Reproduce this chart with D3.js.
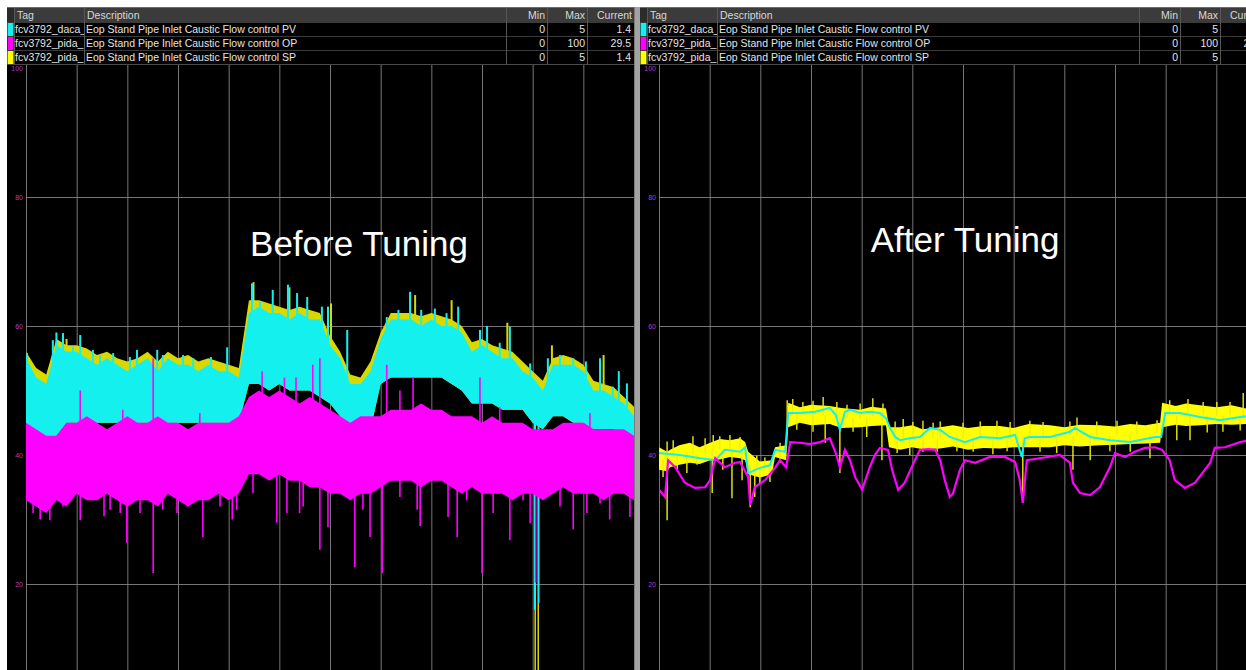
<!DOCTYPE html>
<html><head><meta charset="utf-8">
<script src="https://cdn.jsdelivr.net/npm/d3@7"></script>
<style>html,body{margin:0;padding:0;background:#fff;overflow:hidden}</style>
</head><body><svg id="c" width="1246" height="670"></svg>
<script>
// ---------- table content ----------
const headers = ["Tag", "Description", "Min", "Max", "Current"];
const tags = ["fcv3792_daca_", "fcv3792_pida_", "fcv3792_pida_"];
const descriptions = [
  "Eop Stand Pipe Inlet Caustic Flow control PV",
  "Eop Stand Pipe Inlet Caustic Flow control OP",
  "Eop Stand Pipe Inlet Caustic Flow control SP"];
const mins = ["0", "0", "0"];
const maxs = ["5", "100", "5"];
const currents = ["1.4", "29.5", "1.4"];
const titles = ["Before Tuning", "After Tuning"];
const yTicks = [20, 40, 60, 80, 100];

// ---------- BEFORE tuning (envelopes every 2 time units, t = 0..120) ----------
const beforeT = d3.range(0, 121, 2);
const beforePVHi = [55,52,51,57,56,56,55,54,55,54, 53,54,55,53,55,54,54,53,54,53, 53,52,62,63,62,62,61,62,61,61, 57,55,51,51,53,58,61,61,61,60, 61,60,60,59,56,57,56,55,55,53, 52,50,54,54,54,53,50,50,49,48, 46];
const beforePVLo = [44,43,41,43,45,45,45,45,45,45, 45,45,45,45,45,45,45,45,45,45, 45,45,51,51,50,51,50,50,50,49, 48,46,44,43,44,51,52,52,52,52, 52,52,51,50,48,48,48,47,47,47, 45,44,46,46,45,45,44,44,44,43, 42];
const beforeSPHi = [56,53.5,52.5,58,57,57,56.5,55.5,56,55, 54.5,55,56,54.5,56,55,55.5,54.5,55,54.5, 54,53.5,64,64,63.5,63,62.5,63,62.5,62, 58.5,56,52.5,52,54.5,59,62,62,62,61.5, 62,61.5,61,60,57.5,58,57,56.5,56,54.5, 53,51.5,55,55.5,55,54,51.5,51,50.5,49, 47.5];
const beforeOPHi = [45,44,43,43,45,45,46,45,44,45, 46,45,45,46,45,45,44,45,45,45, 45,46,49,50,49,50,49,48,49,48, 47,46,45,46,46,46,47,47,47,48, 47,47,46,46,46,45,46,45,45,45, 44,44,44,45,45,45,44,44,44,44, 43];
const beforeOPLo = [33,32,31,33,32,34,33,33,34,33, 32,33,33,32,34,33,32,33,33,34, 33,34,37,37,36,37,36,36,35,35, 34,34,33,34,34,35,36,36,36,35, 36,36,35,34,35,34,34,34,33,34, 34,33,34,35,34,34,34,33,34,34, 33];
// spikes [t, value]
const beforeOPDown = [[1.4,31],[2.8,30],[4.7,29.9],[7.3,32],[10.7,29.9],[14,33.5],[15.4,30.5],[16.6,31.5],[18.6,31],[19.9,26.4],[22.5,31],[25.1,21.7],[27,31.5],[29.8,31],[31.8,32],[34.9,27.3],[38.3,32],[40.7,30],[41.6,31.5],[44.8,34.1],[49.5,29.5],[51.5,31],[54,31],[54.7,32],[58,25.3],[59.6,28.8],[62,34.1],[64.9,22.6],[66.5,31.5],[67.9,27.3],[70.3,21.7],[73.8,33.5],[77.2,31.5],[77.8,29],[83.3,30.4],[85.1,27.3],[87,33],[90,21.7],[92.2,31],[95.5,26.8],[98.1,33],[99.5,29.4],[100.6,20.2],[102.8,33.5],[105.4,32],[108,28.5],[110.7,31],[113.3,32.5],[115.2,30],[119.2,30.4]];
const beforeOPUp = [[10.7,50],[19.1,47],[25.1,55],[34.3,46.5],[46.6,53],[51,52],[53.3,52],[56.6,54],[58,55],[71.2,54],[73.8,50],[76.4,52],[89.6,52],[93.5,47.4],[111.3,46.5]];
const beforePVUp = [[0.2,55.8],[5.3,57.8],[6,59],[7.3,58.9],[9.3,56.8],[10.7,58.6],[13.2,56.3],[14.6,55.5],[17.2,55.8],[20.5,55.2],[21.9,56.3],[25.9,56.3],[27,55.5],[31,55.5],[33,55],[36.5,55.2],[39.7,56.7],[44.6,66.6],[46.2,63.8],[48.7,65.6],[51.7,66.4],[53.5,65.1],[55.5,64.5],[58.4,63],[59.6,63],[63.4,59.4],[71.2,61.4],[73.5,62.5],[75.8,65.3],[78,62.5],[80.7,62.7],[83,62],[85.3,63],[89.6,59.4],[91,60],[93.5,57.4],[95.5,59.9],[99.5,54.2],[103,55],[105.4,55.5],[108,55],[110.5,54.5],[113.3,55],[115.8,50.6],[117,53],[118.6,51.1]];
const beforeSPUp = [[8,58],[44.9,66.8],[52,66],[60.2,63.5],[76.8,64.8],[84,64],[95,60.5],[103.8,57],[114,55.5]];
const beforePVDown = [[100.4,16],[101.2,17]];
const beforeSPDown = [[100.5,0],[101.1,0]];

// ---------- AFTER tuning ----------
const afterPV = [[0,40.3],[4.1,40.0],[8.1,39.5],[11.1,39.2],[13,40.8],[16,40.5],[17,41.2],[17.6,37.2],[19.9,38.0],[21.9,38.4],[22.9,40.8],[24.9,40.5],[25.5,46.5],[27.8,46.5],[30.8,46.7],[33.7,47.3],[34.9,46.2],[35.7,43.9],[36.7,46.7],[37.7,47.0],[39.7,46.5],[41.6,46.7],[43.6,46.5],[44.8,45.7],[45.6,44.2],[46.6,42.8],[47.6,42.3],[49.5,42.6],[51.5,42.8],[53.5,44.2],[55.5,43.9],[57.4,42.8],[60.4,42.0],[63.4,42.8],[67.3,42.6],[70.3,43.1],[71.6,39.7],[72.2,42.6],[73.2,42.8],[77.2,42.8],[81.1,43.6],[82.1,44.2],[85.1,42.8],[89,42.3],[93,42.0],[97.9,42.8],[99.1,42.8],[99.9,46.5],[102.8,46.5],[106.8,45.9],[110.7,45.4],[114.7,45.9],[116,46.0]];
const afterOP = [[0,34.6],[1.2,33.5],[1.8,39.2],[3.2,38.1],[5.1,35.7],[7.1,34.9],[9.1,35.0],[10.1,36.1],[11.1,39.5],[13,38.1],[15,38.8],[16,38.9],[17.6,36.6],[18,32.2],[18.9,35.0],[20.9,36.1],[22.9,38.0],[23.9,39.2],[25.1,38.1],[25.9,42.0],[27.8,41.9],[29.8,41.7],[31.8,42.0],[33.7,42.6],[34.9,40.3],[35.7,38.1],[36.7,40.8],[37.7,39.2],[38.7,36.6],[40.1,34.6],[41.6,38.1],[42.6,40.0],[43.6,41.1],[45.2,40.8],[46,37.7],[47.2,34.6],[48.5,35.7],[50.5,39.2],[51.5,40.8],[53.1,40.9],[54.5,40.8],[55.5,39.2],[56.4,36.1],[57.4,33.5],[58,34.0],[59.4,37.7],[60.4,39.2],[62.4,38.8],[65.3,39.7],[68.3,39.7],[70.3,38.9],[71.2,36.1],[71.8,32.6],[72.6,39.2],[75.2,39.5],[79.1,40.0],[81.1,38.8],[81.7,35.7],[83.1,34.1],[85.1,33.8],[87,35.0],[89,38.1],[90,40.3],[92,39.7],[93.9,40.5],[95.9,41.1],[97.9,41.2],[99.3,40.8],[100.8,39.2],[101.8,36.1],[103.8,34.9],[105.8,35.7],[108.8,38.8],[109.7,41.1],[111.7,41.2],[114.7,42.0],[116,42.2]];
// SP noise band [t, high, low]
const afterSP = [[0,41.2,37.7],[1.6,40.5,37.5],[2.2,40.8,38.1],[4,41.5,38.5],[6.1,41.9,38.8],[8,41.2,38.6],[10.1,41.9,39.2],[12,42.5,39.3],[14,42.3,39.7],[16,42.6,39.5],[17,42,39.2],[17.6,40.5,37],[19.9,39,36.5],[22.3,39.2,37],[22.9,41.2,39.7],[25.1,41.5,39.2],[25.5,48.1,44.3],[27.8,47.4,45],[30,47.8,44.6],[33.7,47.6,44.8],[36,47.3,44.2],[39.7,47,44.3],[42,47.5,44.5],[44.8,47.2,44.6],[45.4,44.3,41.2],[47.6,44.3,40.8],[50,44.6,41.2],[52,44,40.9],[55.5,44.3,41],[58,44.6,41.3],[61,44.2,40.8],[64,44.5,41.1],[67.3,44.5,41],[70,44.2,41.2],[73,44.8,41.2],[77.2,44.6,41.2],[80,44.3,41.5],[83,44.7,41.3],[87,44.6,41.5],[90,44.4,41.6],[93,44.8,41.7],[96,44.6,41.8],[98.9,45,41.9],[99.3,48.1,44.3],[102,47.6,44.7],[104,48,44.5],[106.8,47.7,44.6],[110,47.4,44.8],[113,47.7,44.7],[116,47.2,44.8]];
const afterSPSpikes = [[0.8,36.6],[1.6,29.9],[3.6,37.7],[5.5,37.2],[7.5,38.5],[10.5,34.1],[12.6,37.7],[14.4,33.3],[16.4,36.1],[18,31.9],[18.9,33.5],[19.9,35.5],[21.9,35.8],[23.9,38.8],[27.2,43.9],[30.4,43.6],[32.8,41.9],[35.7,37.2],[38.3,43.6],[41,42.8],[44,39.2],[47,40.3],[49.5,40],[52.1,40.5],[54.9,40.5],[58.8,40.6],[62,40.5],[65.9,40.1],[68.7,40.6],[71.8,32.6],[75.2,40.5],[78.5,40.3],[81.7,37.7],[85.1,39.2],[89,40.6],[93,40.5],[96.9,39.5],[102.2,42.3],[104.8,42.3],[108.2,43.5],[111.3,43.6],[114.7,43.8],
  [1.6,42.1],[2.8,42.3],[6.7,42.9],[9.1,42.6],[10.7,43.1],[12,42.9],[14,43.1],[16,42.8],[19.3,39.9],[20.9,39.6],[23.9,41.9],[25.3,48.5],[26.4,48.7],[28.4,48.2],[30.4,48.4],[32.4,49.0],[35.1,48.2],[37.1,47.8],[39.7,48],[42.2,48.8],[44.2,48],[46.6,45.2],[48.2,45.6],[50.1,45.1],[52.1,45.3],[54.1,45],[55.5,45.2],[60,45],[63.4,45.2],[66.7,45.3],[69.3,45.1],[73.2,45.3],[75.8,45.1],[81.1,45.2],[82.5,45.8],[86.4,45.2],[90.4,45.3],[94.3,45.2],[98.3,45.4],[100.8,48.5],[104.4,48.7],[107.4,48.2],[110.1,48.2],[112.7,48.2],[115.3,49.6]];

// ---------- drawing ----------
const svg = d3.select("#c");
const FONT = "'Liberation Sans', Arial, sans-serif";
const COL = {pv: "#14f0ee", op: "#ff00ff", sp: "#ffff00", spDark: "#d9d900"};
const swatchColors = [COL.pv, COL.op, COL.sp];
const y = d3.scaleLinear().domain([0, 100]).range([713, 68]);

function drawPanel(off, idx) {
  const g = svg.append("g").attr("transform", `translate(${off},0)`);
  g.append("rect").attr("x", 7).attr("y", 7).attr("width", 627).attr("height", 663).attr("fill", "#000");
  g.append("rect").attr("x", 7).attr("y", 7).attr("width", 627).attr("height", 15).attr("fill", "#3b3b3b");
  g.append("rect").attr("x", 7).attr("y", 7).attr("width", 7).attr("height", 15).attr("fill", "#2b2b2b");
  g.append("line").attr("x1", 7).attr("x2", 634).attr("y1", 7.5).attr("y2", 7.5).attr("stroke", "#6a6a6a");
  const colX = [14, 84, 506, 547, 587, 634];
  [0,1,2].forEach(i => {
    const ry = 22 + i * 14;
    g.append("line").attr("x1", 7).attr("x2", 634).attr("y1", ry + 0.5).attr("y2", ry + 0.5).attr("stroke", "#3a3a3a");
    g.append("rect").attr("x", 7.5).attr("y", ry + 1).attr("width", 6).attr("height", 13).attr("fill", swatchColors[i]);
  });
  g.append("line").attr("x1", 7).attr("x2", 634).attr("y1", 64.5).attr("y2", 64.5).attr("stroke", "#4a4a4a");
  colX.slice(0, 5).forEach(cx => g.append("line").attr("x1", cx + 0.5).attr("x2", cx + 0.5).attr("y1", 8).attr("y2", 64).attr("stroke", "#575757"));
  const cid = "tagclip" + idx;
  g.append("clipPath").attr("id", cid).append("rect").attr("x", 14).attr("y", 7).attr("width", 70).attr("height", 58);
  const txt = (x, yy, s, anchor, fill) => g.append("text").attr("x", x).attr("y", yy).attr("text-anchor", anchor)
      .attr("font-family", FONT).attr("font-size", 10.5).attr("fill", fill).text(s);
  txt(17, 19, headers[0], "start", "#d8d8d8");
  txt(87, 19, headers[1], "start", "#d8d8d8");
  txt(545, 19, headers[2], "end", "#d8d8d8");
  txt(585, 19, headers[3], "end", "#d8d8d8");
  txt(632, 19, headers[4], "end", "#d8d8d8");
  [0,1,2].forEach(i => {
    const by = 33 + i * 14;
    txt(15, by, tags[i], "start", "#e4e4e4").attr("clip-path", `url(#${cid})`);
    txt(86, by, descriptions[i], "start", "#e4e4e4");
    txt(545, by, mins[i], "end", "#e4e4e4");
    txt(585, by, maxs[i], "end", "#e4e4e4");
    txt(631, by, currents[i], "end", "#e4e4e4");
  });

  const x = d3.scaleLinear().domain([0, 120]).range([26, 634]);
  const gx = g.append("g").attr("transform", "translate(0,670)")
    .call(d3.axisBottom(x).tickValues(d3.range(0, 121, 10)).tickSize(-605).tickFormat(""));
  gx.select(".domain").remove();
  gx.selectAll("line").attr("stroke", "#8a8a8a").attr("stroke-opacity", 0.85);
  const gy = g.append("g").attr("transform", "translate(26,0)")
    .call(d3.axisLeft(y).tickValues(yTicks.slice(0, 4)).tickSize(-608).tickFormat(""));
  gy.select(".domain").remove();
  gy.selectAll("line").attr("stroke", "#8a8a8a").attr("stroke-opacity", 0.85);
  const gl = g.append("g").attr("transform", "translate(23,0)")
    .call(d3.axisLeft(y).tickValues(yTicks).tickSize(0).tickPadding(0));
  gl.select(".domain").remove();
  gl.selectAll("text").attr("fill", "#b53ec0").attr("font-size", 7).attr("font-family", FONT);

  const pid = "plotclip" + idx;
  g.append("clipPath").attr("id", pid).append("rect").attr("x", 26).attr("y", 65).attr("width", 608).attr("height", 605);
  const plot = g.append("g").attr("clip-path", `url(#${pid})`);

  g.append("text").attr("x", idx === 0 ? 359 : 965 - off).attr("y", idx === 0 ? 256 : 252)
    .attr("text-anchor", "middle").attr("font-family", FONT).attr("font-size", 35).attr("fill", "#fff").text(titles[idx]);
  return {plot, x};
}

// ---- left panel ----
{
  const {plot, x} = drawPanel(0, 0);
  const band = (hi, lo) => d3.area().x((d, i) => x(beforeT[i])).y0((d, i) => y(lo[i])).y1((d, i) => y(hi[i]));
  const pvLoAt = d3.scaleLinear().domain(beforeT).range(beforePVLo);
  const pvHiAt = d3.scaleLinear().domain(beforeT).range(beforePVHi);
  const opLoAt = d3.scaleLinear().domain(beforeT).range(beforeOPLo);
  const opHiAt = d3.scaleLinear().domain(beforeT).range(beforeOPHi);
  const spikes = (data, baseFn, color, w) => plot.append("g").selectAll("line").data(data).join("line")
    .attr("x1", d => x(d[0])).attr("x2", d => x(d[0]))
    .attr("y1", d => y(baseFn(d[0]))).attr("y2", d => y(d[1]))
    .attr("stroke", color).attr("stroke-width", w);
  plot.append("path").datum(beforeT).attr("d", band(beforeSPHi, beforePVLo)).attr("fill", COL.spDark);
  spikes(beforeSPUp, t => pvHiAt(t) - 2, COL.spDark, 2);
  spikes(beforeSPDown, t => pvLoAt(t), COL.spDark, 1.5);
  plot.append("path").datum(beforeT).attr("d", band(beforePVHi, beforePVLo)).attr("fill", COL.pv);
  spikes(beforePVUp, t => pvHiAt(t) - 2, COL.pv, 2);
  spikes(beforePVDown, t => pvLoAt(t), COL.pv, 1.5);
  plot.append("path").datum(beforeT).attr("d", band(beforeOPHi, beforeOPLo)).attr("fill", COL.op);
  spikes(beforeOPDown, t => opLoAt(t) + 1, COL.op, 1.6);
  spikes(beforeOPUp, t => opHiAt(t) - 1, COL.op, 1.6);
}

// ---- right panel ----
{
  const {plot, x} = drawPanel(633, 1);
  const spMidAt = d3.scaleLinear().domain(afterSP.map(d => d[0])).range(afterSP.map(d => (d[1] + d[2]) / 2));
  plot.append("path").datum(afterSP).attr("d", d3.area().x(d => x(d[0])).y0(d => y(d[2])).y1(d => y(d[1])))
    .attr("fill", COL.sp);
  plot.append("g").selectAll("line").data(afterSPSpikes).join("line")
    .attr("x1", d => x(d[0])).attr("x2", d => x(d[0]))
    .attr("y1", d => y(spMidAt(d[0]))).attr("y2", d => y(d[1]))
    .attr("stroke", "#eeee10").attr("stroke-width", 1.4);
  const ln = d3.line().x(d => x(d[0])).y(d => y(d[1]));
  plot.append("path").datum(afterPV).attr("d", ln).attr("fill", "none").attr("stroke", COL.pv).attr("stroke-width", 2);
  plot.append("path").datum(afterOP).attr("d", ln).attr("fill", "none").attr("stroke", COL.op).attr("stroke-width", 2.2);
}

svg.append("rect").attr("x", 634).attr("y", 7).attr("width", 6).attr("height", 663).attr("fill", "#a3a3a3");
svg.append("line").attr("x1", 634.5).attr("x2", 634.5).attr("y1", 7).attr("y2", 670).attr("stroke", "#7a7a7a");
</script></body></html>
